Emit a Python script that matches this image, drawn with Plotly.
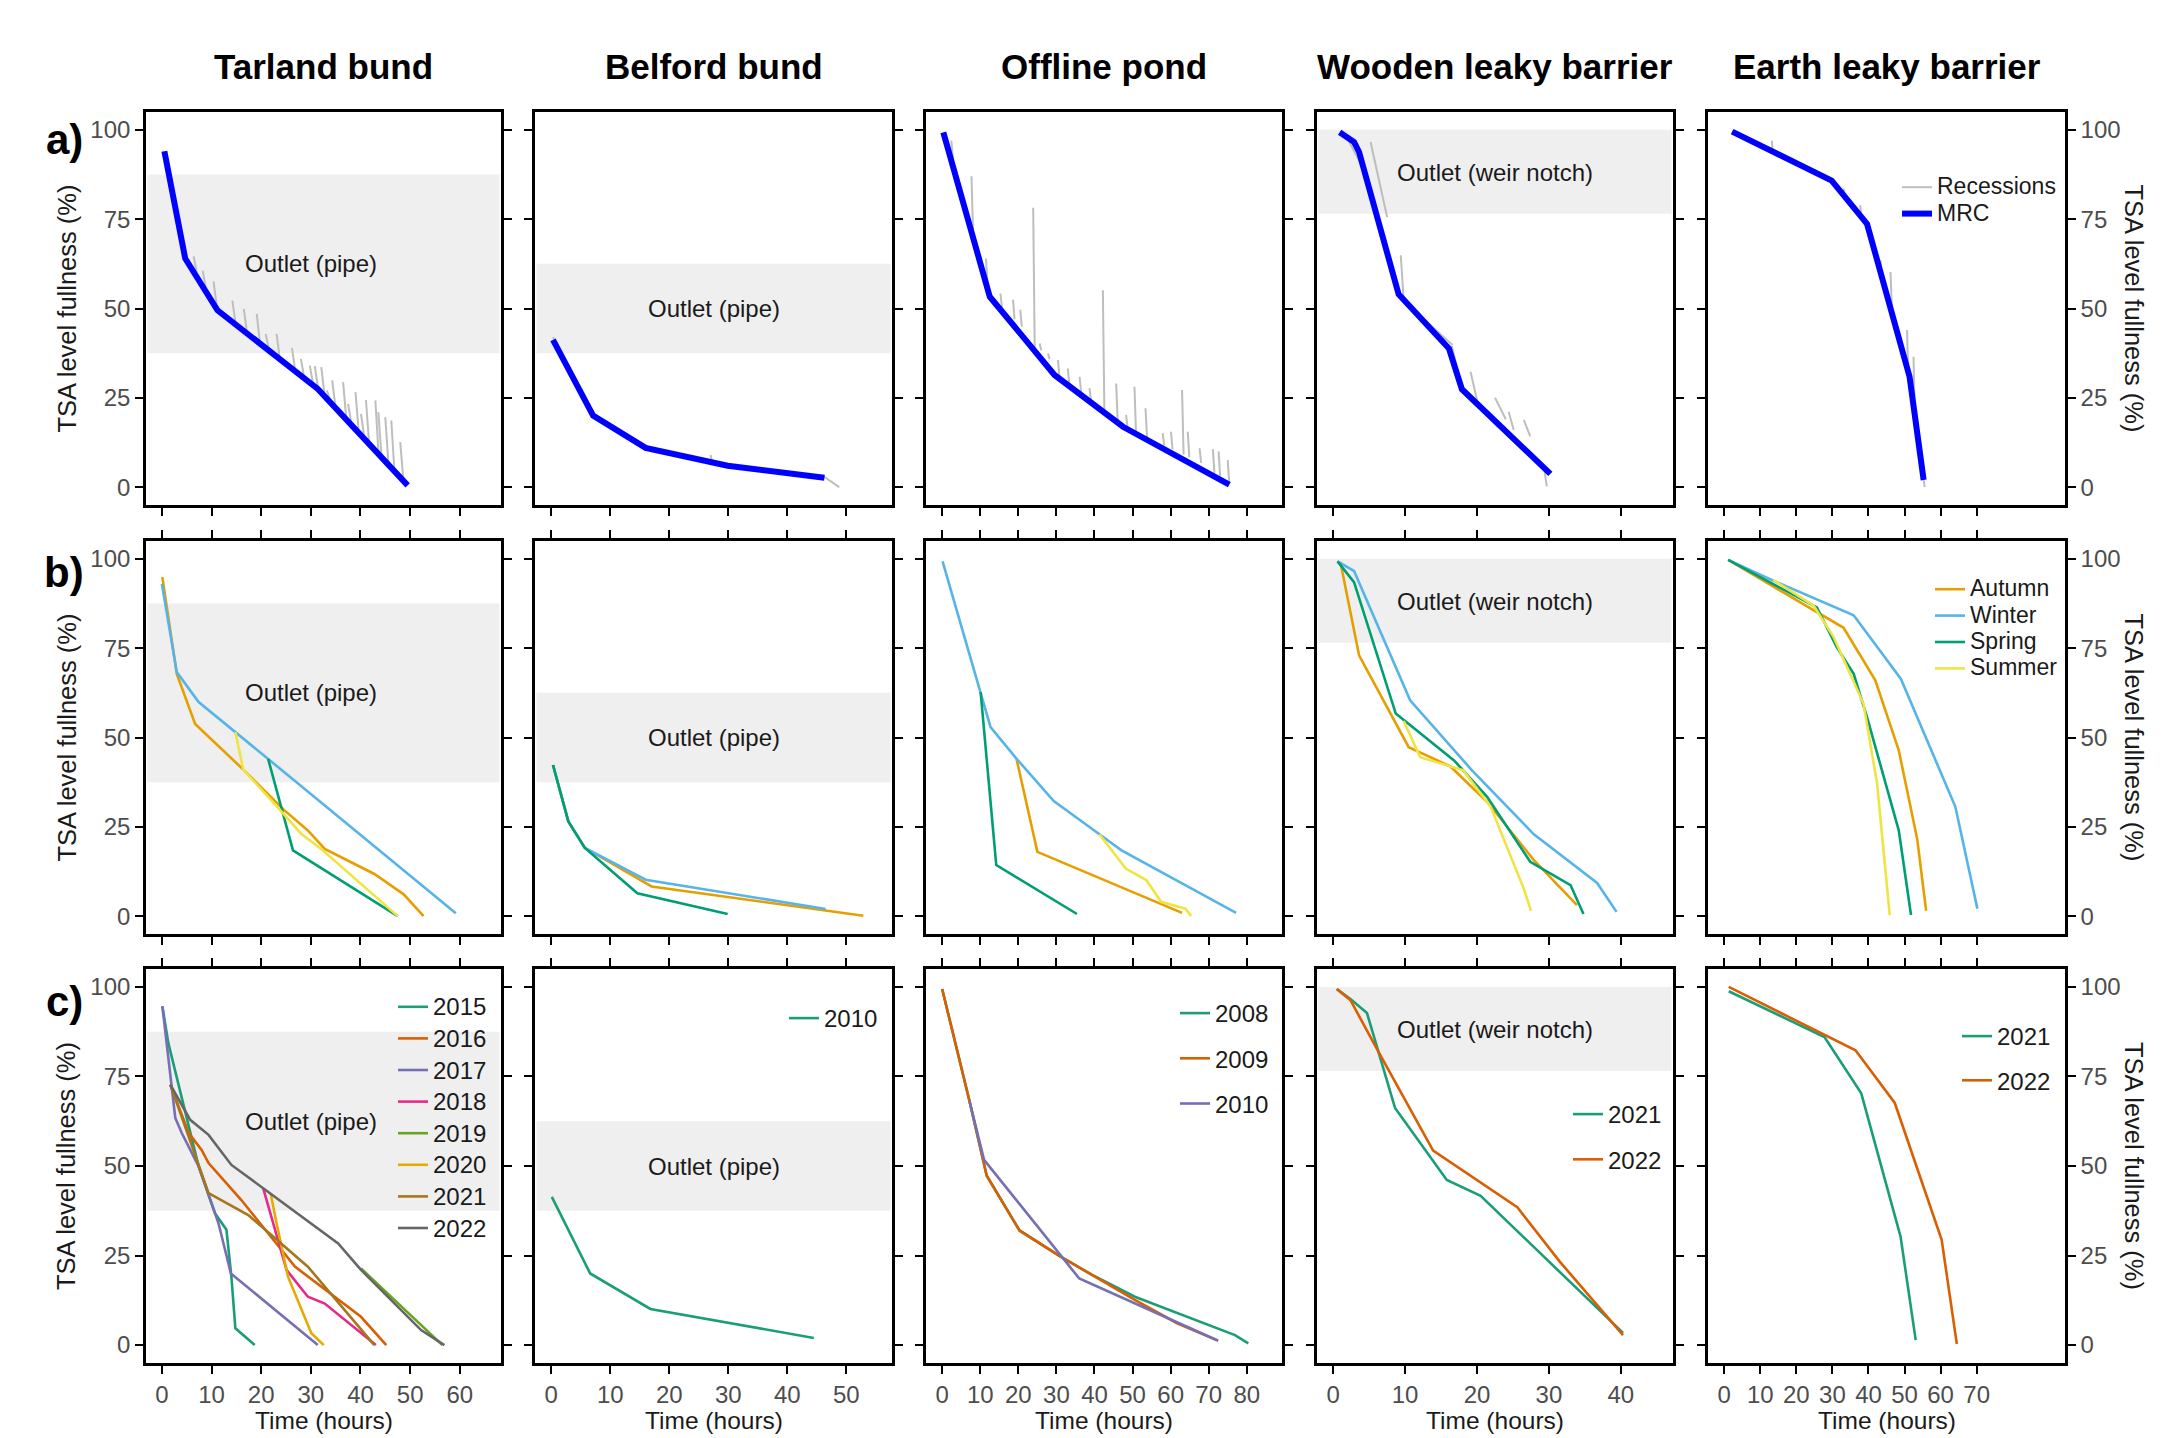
import plotly.graph_objects as go

W, H = 2172, 1438

# ---------------- text / categories ----------------
column_titles = ["Tarland bund", "Belford bund", "Offline pond", "Wooden leaky barrier", "Earth leaky barrier"]
row_labels = ["a)", "b)", "c)"]
y_title = "TSA level fullness (%)"
x_title = "Time (hours)"

x_tick_values = [
    [0, 10, 20, 30, 40, 50, 60],
    [0, 10, 20, 30, 40, 50],
    [0, 10, 20, 30, 40, 50, 60, 70, 80],
    [0, 10, 20, 30, 40],
    [0, 10, 20, 30, 40, 50, 60, 70],
]
x_ranges = [[-3.2, 68.3], [-2.75, 57.75], [-4.25, 89.25], [-2.25, 47.25], [-4.5, 94.5]]
y_tick_values = [0, 25, 50, 75, 100]
y_range = [-5, 105]

# outlet bands: column -> (low, high, label, label_x, label_y)
outlet_bands = {
    0: (37.5, 87.5, "Outlet (pipe)", 30.0, 62.5),
    1: (37.5, 62.5, "Outlet (pipe)", 27.5, 50.0),
    3: (76.5, 100.0, "Outlet (weir notch)", 22.5, 88.0),
}

# ---------------- row a: master recession curves ----------------
a1_mrc_x = [0.5, 4.7, 11.2, 31.4, 49.5]
a1_mrc_y = [94.0, 64.0, 49.5, 27.5, 0.5]
a2_mrc_x = [0.3, 7.1, 16.0, 29.9, 46.3]
a2_mrc_y = [41.2, 20.0, 11.0, 6.0, 2.6]
a3_mrc_x = [0.3, 12.5, 29.5, 47.5, 75.4]
a3_mrc_y = [99.3, 53.3, 31.4, 16.9, 0.7]
a4_mrc_x = [0.9, 2.9, 3.6, 9.1, 16.1, 17.9, 30.2]
a4_mrc_y = [99.3, 96.6, 93.8, 54.0, 38.8, 27.4, 3.7]
a5_mrc_x = [2.2, 29.8, 39.6, 51.4, 55.3]
a5_mrc_y = [99.5, 85.8, 73.7, 30.9, 2.0]

# ---------------- row a: individual recessions (start x,y -> end x,y) ----------------
a1_rec_x0 = [6.4, 8.2, 10.4, 14.2, 16.5, 19.1, 20.9, 23.1, 26.2, 28.0, 29.8, 30.8, 32.1, 33.2, 34.3, 36.5, 37.5, 39.0, 40.1, 41.1, 43.0, 43.6, 45.0, 46.2, 48.0]
a1_rec_y0 = [64.6, 60.6, 57.6, 52.2, 49.9, 48.5, 42.9, 42.9, 39.0, 35.9, 34.0, 33.9, 33.6, 27.1, 29.9, 29.4, 23.3, 26.6, 20.5, 24.4, 24.3, 21.0, 19.6, 18.7, 12.6]
a1_rec_x1 = [7.0, 8.8, 11.0, 14.8, 17.1, 19.7, 21.5, 23.7, 26.8, 28.6, 30.4, 31.4, 32.7, 33.8, 34.9, 37.1, 38.1, 39.6, 40.7, 41.7, 43.6, 44.2, 45.6, 46.8, 48.6]
a1_rec_y1 = [60.2, 56.2, 51.3, 46.2, 43.7, 40.9, 38.9, 36.5, 33.1, 31.1, 29.2, 28.1, 26.5, 24.8, 23.2, 19.9, 18.4, 16.2, 14.6, 13.0, 10.2, 9.3, 7.2, 5.4, 2.7]

a2_rec_x0 = [0.3, 27.0, 46.0]
a2_rec_y0 = [42.0, 9.0, 3.2]
a2_rec_x1 = [3.5, 27.3, 48.8]
a2_rec_y1 = [31.0, 6.8, 0.0]

a3_rec_x0 = [2.4, 7.7, 11.5, 15.3, 18.6, 20.5, 23.9, 25.6, 27.8, 30.4, 33.0, 36.1, 38.7, 42.2, 45.7, 48.3, 50.5, 53.4, 57.9, 60.1, 63.0, 64.5, 67.6, 71.1, 72.6, 75.0]
a3_rec_y0 = [97.0, 87.0, 64.0, 54.2, 52.5, 49.7, 78.2, 40.2, 37.4, 35.6, 33.2, 30.9, 27.7, 55.1, 29.0, 20.2, 28.1, 22.1, 15.1, 15.5, 27.2, 15.5, 10.9, 10.6, 10.0, 7.6]
a3_rec_x1 = [2.8, 8.1, 11.9, 15.7, 19.0, 20.9, 24.3, 26.0, 28.2, 30.8, 33.4, 36.5, 39.1, 42.6, 46.1, 48.7, 50.9, 53.8, 58.3, 60.5, 63.4, 64.9, 68.0, 71.5, 73.0, 75.4]
a3_rec_y1 = [92.0, 71.4, 57.0, 50.3, 47.0, 44.9, 39.0, 38.3, 35.8, 30.7, 28.6, 26.2, 24.0, 21.1, 18.3, 16.6, 15.5, 14.0, 11.7, 10.6, 9.1, 8.4, 6.8, 4.0, 3.0, 1.0]

a4_rec_x0 = [2.0, 5.2, 9.4, 12.5, 16.5, 19.1, 22.5, 24.4, 26.5, 29.3, 4.2, 9.8]
a4_rec_y0 = [97.5, 96.6, 64.9, 47.0, 39.5, 32.3, 25.0, 21.1, 18.8, 5.8, 88.0, 52.0]
a4_rec_x1 = [4.5, 7.5, 9.8, 15.5, 17.5, 20.0, 24.0, 25.1, 27.4, 29.7, 8.6, 16.6]
a4_rec_y1 = [88.0, 75.6, 52.3, 40.5, 31.0, 24.4, 19.0, 16.0, 14.2, 0.2, 58.0, 39.8]

a5_rec_x0 = [13.2, 33.1, 37.7, 43.3, 46.1, 50.7, 52.5, 55.3]
a5_rec_y0 = [97.0, 83.5, 78.9, 63.5, 60.2, 44.0, 36.5, 2.0]
a5_rec_x1 = [13.5, 33.5, 38.0, 43.6, 46.5, 51.0, 52.8, 55.6]
a5_rec_y1 = [93.5, 81.5, 76.0, 60.0, 50.0, 33.0, 22.0, 0.0]

# ---------------- row b: seasonal curves ----------------
seasons = ["Autumn", "Winter", "Spring", "Summer"]
season_colors = ["#E69F00", "#56B4E9", "#009E73", "#F0E442"]

b1_autumn_x = [0.1, 3.0, 6.7, 16.4, 24.7, 29.4, 32.8, 42.8, 48.7, 52.7]
b1_autumn_y = [94.9, 67.8, 53.8, 41.0, 29.6, 24.0, 18.8, 11.8, 6.1, 0.0]
b1_winter_x = [0.0, 3.0, 7.4, 14.7, 21.4, 59.2]
b1_winter_y = [93.0, 68.3, 59.9, 51.5, 44.0, 0.8]
b1_spring_x = [21.4, 26.4, 47.5]
b1_spring_y = [44.0, 18.4, 0.0]
b1_summer_x = [14.8, 16.4, 22.7, 28.1, 32.1, 47.5]
b1_summer_y = [51.5, 41.0, 31.4, 23.0, 18.8, 0.0]

b2_autumn_x = [0.3, 2.9, 5.7, 17.0, 52.9]
b2_autumn_y = [42.3, 26.5, 19.1, 8.3, 0.1]
b2_winter_x = [0.3, 2.9, 5.7, 16.0, 46.5]
b2_winter_y = [42.3, 26.5, 19.1, 10.2, 2.0]
b2_spring_x = [0.3, 2.9, 5.7, 14.6, 29.9]
b2_spring_y = [42.3, 26.5, 19.1, 6.4, 0.6]
b2_summer_x = []
b2_summer_y = []

b3_autumn_x = [19.5, 25.0, 63.0]
b3_autumn_y = [44.1, 18.0, 0.9]
b3_winter_x = [0.1, 10.1, 12.7, 19.5, 29.3, 41.3, 47.0, 77.2]
b3_winter_y = [99.3, 62.7, 52.9, 44.1, 32.2, 22.9, 18.5, 0.9]
b3_spring_x = [10.1, 14.2, 35.4]
b3_spring_y = [62.7, 14.3, 0.6]
b3_summer_x = [41.3, 48.2, 53.6, 57.5, 63.9, 65.4]
b3_summer_y = [22.9, 13.3, 10.1, 4.0, 2.1, 0.0]

b4_autumn_x = [1.0, 3.6, 10.5, 16.3, 21.4, 27.9, 33.9]
b4_autumn_y = [99.1, 73.0, 47.3, 41.9, 32.0, 15.7, 3.1]
b4_winter_x = [0.6, 2.9, 10.7, 19.3, 27.9, 36.7, 39.4]
b4_winter_y = [99.3, 96.6, 60.4, 40.8, 22.9, 9.3, 1.2]
b4_spring_x = [0.6, 2.9, 8.7, 16.8, 21.4, 27.4, 33.0, 34.8]
b4_spring_y = [99.3, 93.5, 56.7, 43.6, 33.4, 15.2, 8.7, 0.6]
b4_summer_x = [9.8, 12.1, 18.1, 21.9, 26.5, 27.5]
b4_summer_y = [54.6, 44.5, 40.8, 30.6, 7.7, 1.5]

b5_autumn_x = [1.1, 25.7, 33.1, 41.9, 48.4, 53.5, 56.0]
b5_autumn_y = [99.7, 85.1, 80.7, 66.0, 46.4, 21.7, 1.5]
b5_winter_x = [1.1, 13.6, 35.9, 49.0, 64.1, 70.2]
b5_winter_y = [99.7, 93.9, 84.2, 66.4, 30.6, 2.1]
b5_spring_x = [1.1, 25.7, 31.2, 35.9, 39.6, 48.4, 51.8]
b5_spring_y = [99.7, 86.4, 75.3, 67.8, 55.7, 24.0, 0.3]
b5_summer_x = [13.6, 24.7, 30.3, 38.6, 42.4, 45.9]
b5_summer_y = [94.1, 87.0, 78.2, 59.5, 37.1, 0.3]

# ---------------- row c: yearly curves ----------------
dark2 = ["#1B9E77", "#D95F02", "#7570B3", "#E7298A", "#66A61E", "#E6AB02", "#A6761D", "#666666"]

c1_years = ["2015", "2016", "2017", "2018", "2019", "2020", "2021", "2022"]
c1_x = [
    [0.1, 1.3, 7.4, 10.7, 13.0, 14.0, 14.8, 18.7],
    [1.7, 5.4, 8.0, 9.4, 16.0, 26.8, 40.1, 45.2],
    [0.1, 2.7, 4.0, 7.4, 11.4, 13.9, 31.4],
    [20.4, 25.1, 29.4, 32.8, 43.1],
    [40.1, 56.5],
    [21.9, 23.1, 25.4, 30.1, 32.6],
    [1.7, 4.7, 9.4, 17.4, 29.4, 42.8],
    [1.7, 5.7, 9.4, 14.0, 20.4, 35.5, 40.1, 52.2, 56.9],
]
c1_y = [
    [94.6, 84.3, 49.9, 36.8, 32.2, 19.1, 4.7, 0.0],
    [72.7, 59.2, 54.5, 50.8, 40.5, 21.9, 7.9, 0.0],
    [94.6, 63.4, 59.2, 49.9, 34.0, 20.0, 0.0],
    [43.8, 21.0, 13.5, 11.6, 0.0],
    [21.4, 0.0],
    [42.4, 34.0, 19.1, 3.3, 0.0],
    [72.7, 61.0, 42.4, 36.3, 21.9, 0.0],
    [72.7, 62.9, 58.7, 50.3, 43.8, 28.4, 21.0, 4.2, 0.0],
]

c2_years = ["2010"]
c2_x = [[0.1, 6.6, 16.8, 44.5]]
c2_y = [[41.4, 20.0, 10.1, 2.0]]

c3_years = ["2008", "2009", "2010"]
c3_x = [
    [0.0, 7.2, 11.7, 20.3, 31.1, 39.4, 50.6, 64.0, 76.9, 80.4],
    [0.0, 7.2, 11.7, 20.3, 31.1, 39.4, 50.6, 61.7, 72.1],
    [7.2, 11.0, 36.0, 50.6, 72.5],
]
c3_y = [
    [99.4, 68.0, 47.3, 32.0, 24.7, 19.6, 13.5, 8.0, 2.8, 0.5],
    [99.4, 68.0, 47.3, 32.0, 24.7, 19.6, 12.6, 6.1, 1.4],
    [68.0, 51.7, 18.6, 11.6, 1.2],
]

c4_years = ["2021", "2022"]
c4_x = [
    [0.5, 2.4, 4.7, 8.6, 15.8, 20.5, 40.3],
    [0.5, 2.4, 6.4, 13.9, 25.6, 31.5, 40.3],
]
c4_y = [
    [99.4, 96.6, 92.7, 66.2, 46.1, 41.7, 3.4],
    [99.4, 96.3, 81.5, 54.3, 38.5, 23.3, 2.8],
]

c5_years = ["2021", "2022"]
c5_x = [
    [1.25, 27.8, 38.0, 48.9, 53.1],
    [1.25, 27.8, 36.4, 47.3, 60.3, 64.5],
]
c5_y = [
    [98.8, 86.0, 70.3, 30.3, 1.4],
    [100.0, 86.5, 82.3, 67.6, 29.4, 0.3],
]

# ---------------- layout geometry (pixels) ----------------
col_left = [146, 535, 926, 1317, 1708]
col_right = [501, 892, 1282, 1673, 2065]
row_top = [112, 541, 969]
row_bottom = [505, 934, 1363]

FONT = "Liberation Sans, Arial, sans-serif"
TICK_GREY = "#4D4D4D"
TEXT = "#1A1A1A"
LEGEND_ITEM_W = 30  # text sits this far (+10) from the legend's left edge


def px(x):
    return x / W


def py(y):
    return 1 - y / H


def ax_index(r, c):
    return r * 5 + c + 1


def xn(i):
    return "x" if i == 1 else f"x{i}"


def yn(i):
    return "y" if i == 1 else f"y{i}"


def big(label, size):
    return f"<span style='font-size:{size}px'>{label}</span>"


fig = go.Figure()


def add_line(r, c, x, y, color, width, name="", legend="legend", show=False, group=None):
    i = ax_index(r, c)
    fig.add_trace(go.Scatter(
        x=x, y=y, mode="lines", name=name,
        line=dict(color=color, width=width),
        xaxis=xn(i), yaxis=yn(i),
        showlegend=show, legend=legend,
        legendgroup=group, hoverinfo="skip",
    ))


def add_recessions(c, x0, y0, x1, y1, show=False):
    xs, ys = [], []
    for a, b, cc, d in zip(x0, y0, x1, y1):
        xs += [a, cc, None]
        ys += [b, d, None]
    add_line(0, c, xs, ys, "#BEBEBE", 2, name=big("Recessions", 23), legend="legend", show=show)


# row a
mrc = [(a1_mrc_x, a1_mrc_y), (a2_mrc_x, a2_mrc_y), (a3_mrc_x, a3_mrc_y), (a4_mrc_x, a4_mrc_y), (a5_mrc_x, a5_mrc_y)]
recs = [
    (a1_rec_x0, a1_rec_y0, a1_rec_x1, a1_rec_y1),
    (a2_rec_x0, a2_rec_y0, a2_rec_x1, a2_rec_y1),
    (a3_rec_x0, a3_rec_y0, a3_rec_x1, a3_rec_y1),
    (a4_rec_x0, a4_rec_y0, a4_rec_x1, a4_rec_y1),
    (a5_rec_x0, a5_rec_y0, a5_rec_x1, a5_rec_y1),
]
for c in range(5):
    add_recessions(c, *recs[c], show=(c == 4))
    add_line(0, c, mrc[c][0], mrc[c][1], "#0000FF", 6, name=big("MRC", 23), legend="legend", show=(c == 4))

# row b
row_b = [
    [(b1_autumn_x, b1_autumn_y), (b1_winter_x, b1_winter_y), (b1_spring_x, b1_spring_y), (b1_summer_x, b1_summer_y)],
    [(b2_autumn_x, b2_autumn_y), (b2_winter_x, b2_winter_y), (b2_spring_x, b2_spring_y), (b2_summer_x, b2_summer_y)],
    [(b3_autumn_x, b3_autumn_y), (b3_winter_x, b3_winter_y), (b3_spring_x, b3_spring_y), (b3_summer_x, b3_summer_y)],
    [(b4_autumn_x, b4_autumn_y), (b4_winter_x, b4_winter_y), (b4_spring_x, b4_spring_y), (b4_summer_x, b4_summer_y)],
    [(b5_autumn_x, b5_autumn_y), (b5_winter_x, b5_winter_y), (b5_spring_x, b5_spring_y), (b5_summer_x, b5_summer_y)],
]
for c in range(5):
    for k, s in enumerate(seasons):
        xs, ys = row_b[c][k]
        if c == 4 or len(xs) > 0:
            add_line(1, c, xs, ys, season_colors[k], 2.6, name=big(s, 23), legend="legend2", show=(c == 4))

# row c
row_c = [(c1_years, c1_x, c1_y), (c2_years, c2_x, c2_y), (c3_years, c3_x, c3_y), (c4_years, c4_x, c4_y), (c5_years, c5_x, c5_y)]
for c in range(5):
    years, xs, ys = row_c[c]
    for k, yr in enumerate(years):
        add_line(2, c, xs[k], ys[k], dark2[k], 2.6, name=big(yr, 24), legend=f"legend{c + 3}", show=True,
                 group=f"c{c}_{yr}")

# ---------------- axes ----------------
layout = dict(
    width=W, height=H, autosize=False,
    margin=dict(l=0, r=0, t=0, b=0),
    paper_bgcolor="white", plot_bgcolor="white",
    font=dict(family=FONT, color=TEXT),
)
for r in range(3):
    for c in range(5):
        i = ax_index(r, c)
        xk = "xaxis" if i == 1 else f"xaxis{i}"
        yk = "yaxis" if i == 1 else f"yaxis{i}"
        layout[xk] = dict(
            domain=[px(col_left[c]), px(col_right[c])],
            range=x_ranges[c], anchor=yn(i),
            tickvals=x_tick_values[c], showticklabels=(r == 2),
            ticks="outside", ticklen=8, tickwidth=2.2, tickcolor="black",
            showline=True, linecolor="black", linewidth=2.6,
            mirror=(True if r == 0 else "ticks"),
            showgrid=False, zeroline=False,
            tickfont=dict(family=FONT, size=24, color=TICK_GREY),
        )
        layout[yk] = dict(
            domain=[py(row_bottom[r]), py(row_top[r])],
            range=y_range, anchor=xn(i),
            tickvals=y_tick_values, showticklabels=(c in (0, 4)),
            side=("right" if c == 4 else "left"),
            ticks="outside", ticklen=8, tickwidth=2.2, tickcolor="black",
            showline=True, linecolor="black", linewidth=2.6, mirror="ticks",
            showgrid=False, zeroline=False,
            tickfont=dict(family=FONT, size=24, color=TICK_GREY),
        )

# ---------------- bands & labels ----------------
shapes, annotations = [], []
for r in range(3):
    for c, (lo, hi, label, lx, ly) in outlet_bands.items():
        i = ax_index(r, c)
        shapes.append(dict(type="rect", xref=f"{xn(i)} domain", x0=0.004, x1=0.996,
                           yref=yn(i), y0=lo, y1=hi, fillcolor="#EFEFEF",
                           line=dict(width=0), layer="below"))
        annotations.append(dict(xref=xn(i), yref=yn(i), x=lx, y=ly, text=label, showarrow=False,
                                xanchor="center", yanchor="middle",
                                font=dict(family=FONT, size=24, color=TEXT)))


def paper_text(x, y, text, size, color=TEXT, angle=0):
    annotations.append(dict(xref="paper", yref="paper", x=px(x), y=py(y), text=text,
                            xanchor="center", yanchor="middle", textangle=angle, showarrow=False,
                            font=dict(family=FONT, size=size, color=color)))


for c in range(5):
    cx = (col_left[c] + col_right[c]) / 2
    paper_text(cx, 66, f"<b>{column_titles[c]}</b>", 35, color="black")
    paper_text(cx, 1420, x_title, 24.5)

letter_y = [139, 572, 1002]
for r in range(3):
    cy = (row_top[r] + row_bottom[r]) / 2
    paper_text(64, letter_y[r], f"<b>{row_labels[r]}</b>", 42, color="black")
    paper_text(66, cy, y_title, 25.5, angle=-90)
    paper_text(2134, cy, y_title, 25.5, angle=90)

layout["shapes"] = shapes
layout["annotations"] = annotations


def legend_box(text_left, top, size, gap=0, grouped=False):
    d = dict(x=px(text_left - LEGEND_ITEM_W - 10), y=py(top), xref="paper", yref="paper",
             xanchor="left", yanchor="top",
             bgcolor="rgba(0,0,0,0)", borderwidth=0,
             font=dict(family=FONT, size=size, color=TEXT), itemwidth=LEGEND_ITEM_W)
    if grouped:
        d["traceorder"] = "grouped"
        d["tracegroupgap"] = gap
    else:
        d["traceorder"] = "normal"
    return d


layout["legend"] = legend_box(1937, 169, 18)
layout["legend2"] = legend_box(1970, 571, 18)
layout["legend3"] = legend_box(433, 986, 22, gap=0, grouped=True)
layout["legend4"] = legend_box(824, 996, 24, gap=0, grouped=True)
layout["legend5"] = legend_box(1215, 991, 24, gap=11, grouped=True)
layout["legend6"] = legend_box(1608, 1092, 24, gap=11, grouped=True)
layout["legend7"] = legend_box(1997, 1014, 24, gap=10, grouped=True)

fig.update_layout(**layout)
fig.write_html("out.html", config={"displayModeBar": False},
               post_script="document.body.style.margin='0';document.body.style.overflow='hidden';")
